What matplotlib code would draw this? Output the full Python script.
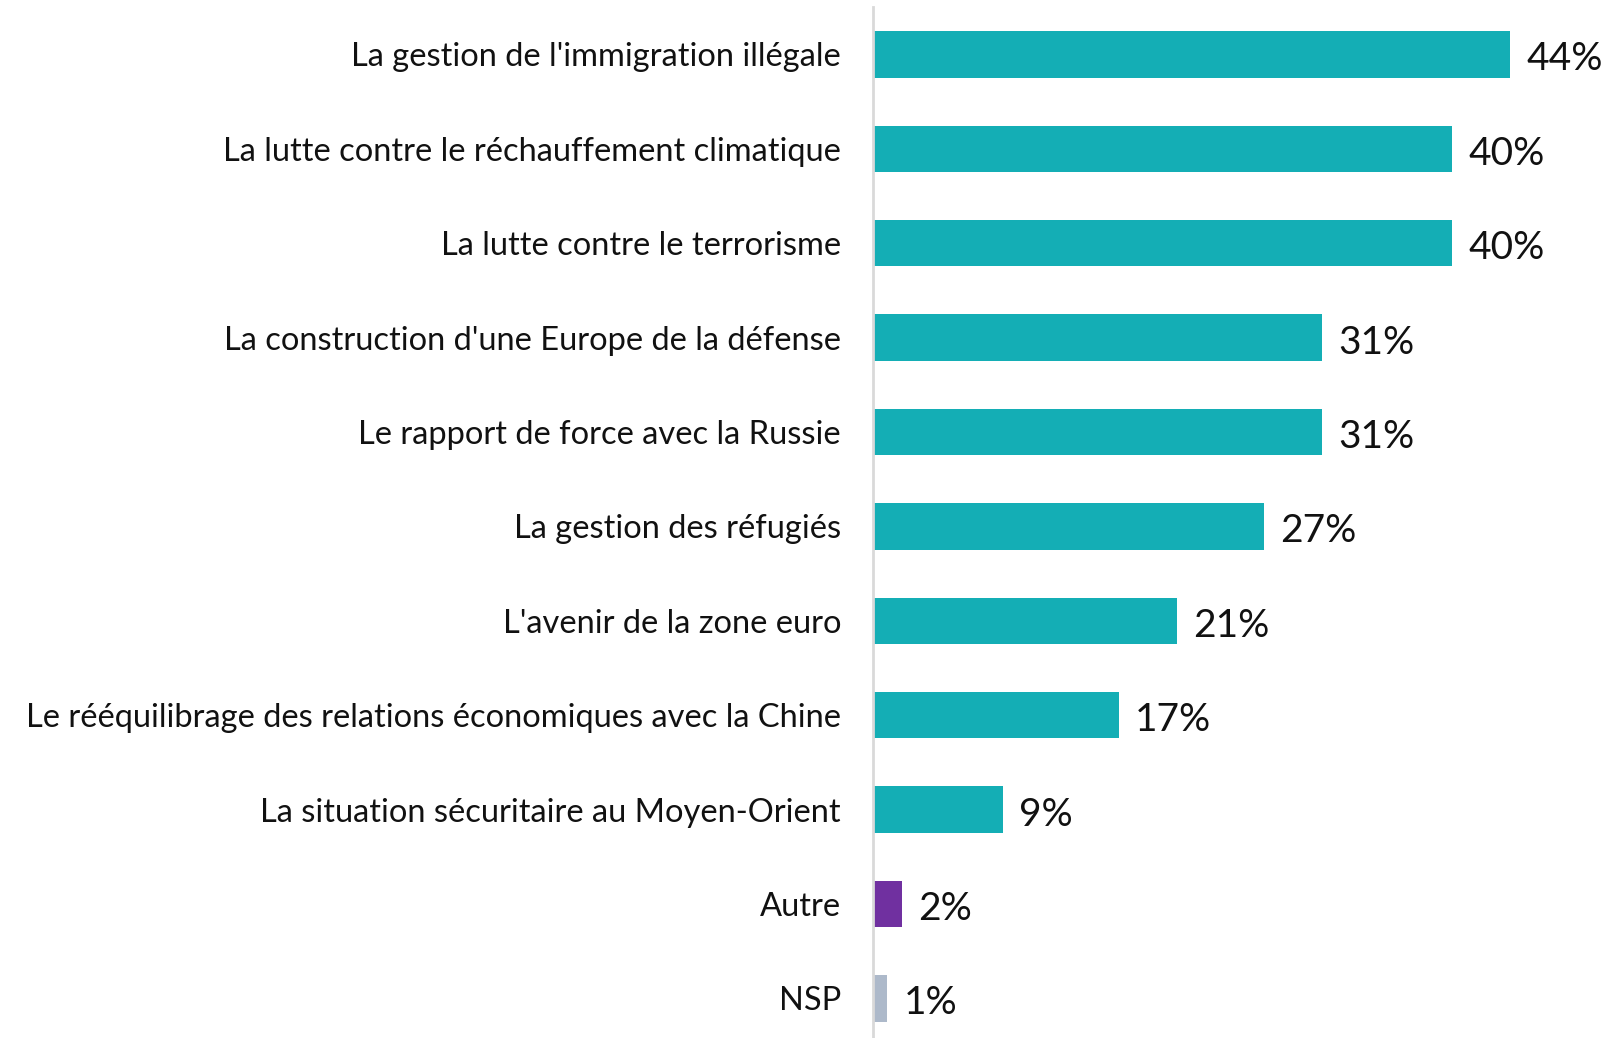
import matplotlib
matplotlib.use("Agg")
import matplotlib.pyplot as plt
from matplotlib.transforms import offset_copy

categories = [
    "La gestion de l'immigration illégale",
    "La lutte contre le réchauffement climatique",
    "La lutte contre le terrorisme",
    "La construction d'une Europe de la défense",
    "Le rapport de force avec la Russie",
    "La gestion des réfugiés",
    "L'avenir de la zone euro",
    "Le rééquilibrage des relations économiques avec la Chine",
    "La situation sécuritaire au Moyen-Orient",
    "Autre",
    "NSP",
]
values = [44, 40, 40, 31, 31, 27, 21, 17, 9, 2, 1]
colors = ["#14AEB5"] * 9 + ["#7030A0", "#ADB9CA"]

plt.rcParams["font.family"] = ["Lato", "DejaVu Sans"]

W, H = 1609, 1038
fig = plt.figure(figsize=(W / 100, H / 100), dpi=100)

axis_x = 873
row_h = 94.4
first_center = 54.4
px_per_pct = 14.48

top_px = first_center - row_h / 2
ax_left = axis_x / W
ax_w = (W - axis_x) / W
ax = fig.add_axes([ax_left, 0, ax_w, 1 - top_px / H])
ax.set_xlim(0, (W - axis_x) / px_per_pct)
ax.set_ylim(-0.5 + (H - top_px) / row_h, -0.5)

y = list(range(len(categories)))
ax.barh(y, values, height=0.49, color=colors, zorder=2)

for yi, v in zip(y, values):
    ax.text(v, yi, f"{v}%", transform=offset_copy(ax.transData, fig=fig, x=16, y=-5, units="dots"),
            va="center", ha="left", fontsize=28, color="#111111")

ax.set_yticks(y)
ax.set_yticklabels(categories, fontsize=23.5, color="#111111")
ax.tick_params(axis="y", length=0, pad=23)
ax.set_xticks([])
for s in ["top", "right", "bottom"]:
    ax.spines[s].set_visible(False)
ax.spines["left"].set_color("#d9d9d9")
ax.spines["left"].set_linewidth(2)

fig.savefig("out.png", dpi=100)
